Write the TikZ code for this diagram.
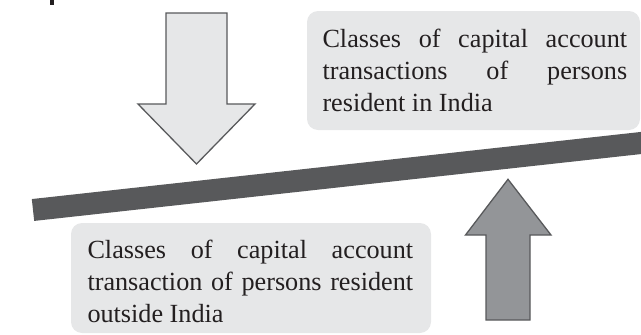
\documentclass[tikz,border=0pt]{standalone}
\usepackage{fontspec}
\setmainfont{Liberation Serif}
\definecolor{beamgray}{HTML}{58595B}
\definecolor{lightfill}{HTML}{E6E7E8}
\definecolor{midfill}{HTML}{939598}
\definecolor{inkcol}{HTML}{231F20}
\tikzset{
  panel/.style={fill=lightfill, rounded corners=11pt, inner sep=0pt},
  paneltext/.style={inner sep=0pt, align=left, text=inkcol,
    font=\fontsize{26.2}{32}\selectfont},
  bigarrow/.style={draw=beamgray, line width=1.3pt, line join=miter},
  beam/.style={draw=beamgray, line width=22pt, line cap=butt}
}
\begin{document}
\begin{tikzpicture}[x=1pt,y=-1pt]
\useasboundingbox (0,0) rectangle (641,335);
% small cut-off glyph at the top edge
\fill[inkcol] (49.5,0) rectangle (53.5,4.7);
% pivot beam
\coordinate (beamL) at (33,210);
\coordinate (beamR) at (670,139.8);
\draw[beam] (beamL) -- (beamR);
% downward arrow (pale)
\draw[bigarrow, fill=lightfill] (166,13) -- (227,13) -- (227,104) -- (255,104)
  -- (196.5,164) -- (138,104) -- (166,104) -- cycle;
% upward arrow (mid grey)
\draw[bigarrow, fill=midfill] (486,320) -- (530,320) -- (530,235) -- (551,235)
  -- (508,179.3) -- (465.5,235) -- (486,235) -- cycle;
% upper panel
\node[panel, minimum width=333pt, minimum height=119pt] (topbox) at (473.5,70.5) {};
\node[paneltext, anchor=north west] (toptext) at (322.3,28.8) {%
  \makebox[304.7pt][s]{Classes of capital account}\\
  \makebox[304.7pt][s]{transactions of persons}\\
  resident in India};
% lower panel
\node[panel, minimum width=360pt, minimum height=110pt] (botbox) at (251,278) {};
\node[paneltext, anchor=north west] (bottext) at (87.3,239.4) {%
  \makebox[325.7pt][s]{Classes of capital account}\\
  \makebox[325.7pt][s]{transaction of persons resident}\\
  outside India};
\end{tikzpicture}
\end{document}
